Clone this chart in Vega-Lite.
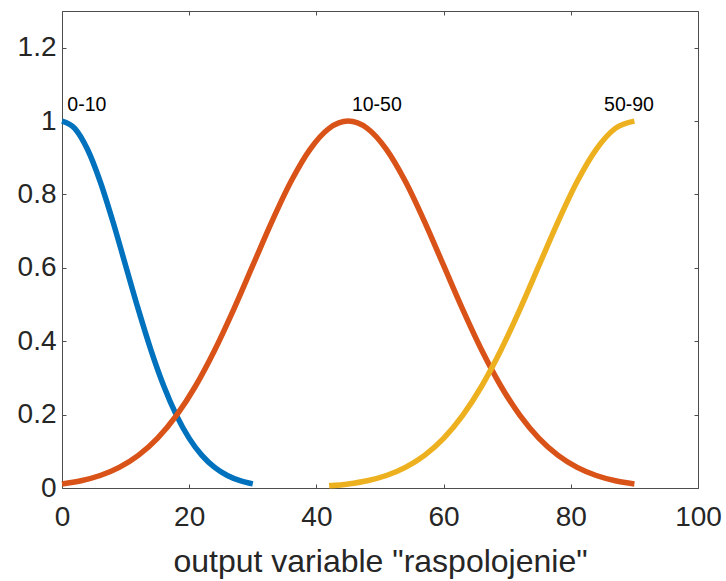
{
  "$schema": "https://vega.github.io/schema/vega-lite/v6.json",
  "width": 636,
  "height": 477,
  "autosize": "none",
  "padding": {"left": 62, "top": 11, "right": 28, "bottom": 93},
  "background": "white",
  "config": {
    "view": {"stroke": "#4d4d4d", "strokeWidth": 1},
    "font": "Liberation Sans",
    "axis": {"grid": false, "domain": false, "tickColor": "#4d4d4d", "labelColor": "#262626", "titleColor": "#262626", "labelFontSize": 28, "titleFontSize": 32, "titleFontWeight": "normal", "labelFlush": false, "labelOverlap": false}
  },
  "datasets": {
    "mf": [
      {"mf": "0-10", "x": 0, "y": 1}, {"mf": "0-10", "x": 2, "y": 0.9802}, {"mf": "0-10", "x": 4, "y": 0.9231}, {"mf": "0-10", "x": 6, "y": 0.8353}, {"mf": "0-10", "x": 8, "y": 0.7261}, {"mf": "0-10", "x": 10, "y": 0.6065}, {"mf": "0-10", "x": 12, "y": 0.4868}, {"mf": "0-10", "x": 14, "y": 0.3753}, {"mf": "0-10", "x": 16, "y": 0.278}, {"mf": "0-10", "x": 18, "y": 0.1979}, {"mf": "0-10", "x": 20, "y": 0.1353}, {"mf": "0-10", "x": 22, "y": 0.0889}, {"mf": "0-10", "x": 24, "y": 0.0561}, {"mf": "0-10", "x": 26, "y": 0.034}, {"mf": "0-10", "x": 28, "y": 0.0198}, {"mf": "0-10", "x": 30, "y": 0.0111},
      {"mf": "10-50", "x": 0, "y": 0.0111}, {"mf": "10-50", "x": 3, "y": 0.0198}, {"mf": "10-50", "x": 6, "y": 0.034}, {"mf": "10-50", "x": 9, "y": 0.0561}, {"mf": "10-50", "x": 12, "y": 0.0889}, {"mf": "10-50", "x": 15, "y": 0.1353}, {"mf": "10-50", "x": 18, "y": 0.1979}, {"mf": "10-50", "x": 21, "y": 0.278}, {"mf": "10-50", "x": 24, "y": 0.3753}, {"mf": "10-50", "x": 27, "y": 0.4868}, {"mf": "10-50", "x": 30, "y": 0.6065}, {"mf": "10-50", "x": 33, "y": 0.7261}, {"mf": "10-50", "x": 36, "y": 0.8353}, {"mf": "10-50", "x": 39, "y": 0.9231}, {"mf": "10-50", "x": 42, "y": 0.9802}, {"mf": "10-50", "x": 45, "y": 1}, {"mf": "10-50", "x": 48, "y": 0.9802}, {"mf": "10-50", "x": 51, "y": 0.9231}, {"mf": "10-50", "x": 54, "y": 0.8353}, {"mf": "10-50", "x": 57, "y": 0.7261}, {"mf": "10-50", "x": 60, "y": 0.6065}, {"mf": "10-50", "x": 63, "y": 0.4868}, {"mf": "10-50", "x": 66, "y": 0.3753}, {"mf": "10-50", "x": 69, "y": 0.278}, {"mf": "10-50", "x": 72, "y": 0.1979}, {"mf": "10-50", "x": 75, "y": 0.1353}, {"mf": "10-50", "x": 78, "y": 0.0889}, {"mf": "10-50", "x": 81, "y": 0.0561}, {"mf": "10-50", "x": 84, "y": 0.034}, {"mf": "10-50", "x": 87, "y": 0.0198}, {"mf": "10-50", "x": 90, "y": 0.0111},
      {"mf": "50-90", "x": 42, "y": 0.006}, {"mf": "50-90", "x": 45, "y": 0.0111}, {"mf": "50-90", "x": 48, "y": 0.0198}, {"mf": "50-90", "x": 51, "y": 0.034}, {"mf": "50-90", "x": 54, "y": 0.0561}, {"mf": "50-90", "x": 57, "y": 0.0889}, {"mf": "50-90", "x": 60, "y": 0.1353}, {"mf": "50-90", "x": 63, "y": 0.1979}, {"mf": "50-90", "x": 66, "y": 0.278}, {"mf": "50-90", "x": 69, "y": 0.3753}, {"mf": "50-90", "x": 72, "y": 0.4868}, {"mf": "50-90", "x": 75, "y": 0.6065}, {"mf": "50-90", "x": 78, "y": 0.7261}, {"mf": "50-90", "x": 81, "y": 0.8353}, {"mf": "50-90", "x": 84, "y": 0.9231}, {"mf": "50-90", "x": 87, "y": 0.9802}, {"mf": "50-90", "x": 90, "y": 1}
    ],
    "labels": [
      {"mf": "0-10", "x": 3.9, "y": 1.044},
      {"mf": "10-50", "x": 49.5, "y": 1.044},
      {"mf": "50-90", "x": 89.15, "y": 1.044}
    ]
  },
  "layer": [
    {
      "data": {"name": "mf"},
      "mark": {"type": "line", "strokeWidth": 5.5, "interpolate": "monotone", "strokeCap": "butt"},
      "encoding": {
        "x": {"field": "x", "type": "quantitative", "scale": {"domain": [0, 100], "nice": false}, "axis": {"title": "output variable \"raspolojenie\"", "values": [0, 20, 40, 60, 80, 100], "tickSize": -4, "labelPadding": 19, "titlePadding": 15}},
        "y": {"field": "y", "type": "quantitative", "scale": {"domain": [0, 1.3], "nice": false}, "axis": {"title": null, "values": [0, 0.2, 0.4, 0.6, 0.8, 1, 1.2], "format": "~g", "tickSize": -4, "labelPadding": 10}},
        "color": {"field": "mf", "type": "nominal", "scale": {"domain": ["0-10", "10-50", "50-90"], "range": ["#0072BD", "#D95319", "#EDB120"]}, "legend": null}
      }
    },
    {
      "data": {"name": "labels"},
      "mark": {"type": "text", "fontSize": 19.5, "color": "#000000", "align": "center", "baseline": "middle"},
      "encoding": {
        "x": {"field": "x", "type": "quantitative", "axis": {"orient": "top", "labels": false, "title": null, "values": [0, 20, 40, 60, 80, 100], "tickSize": -4}},
        "y": {"field": "y", "type": "quantitative", "axis": {"orient": "right", "labels": false, "title": null, "values": [0, 0.2, 0.4, 0.6, 0.8, 1, 1.2], "tickSize": -4}},
        "text": {"field": "mf"}
      }
    }
  ],
  "resolve": {"axis": {"x": "independent", "y": "independent"}}
}
